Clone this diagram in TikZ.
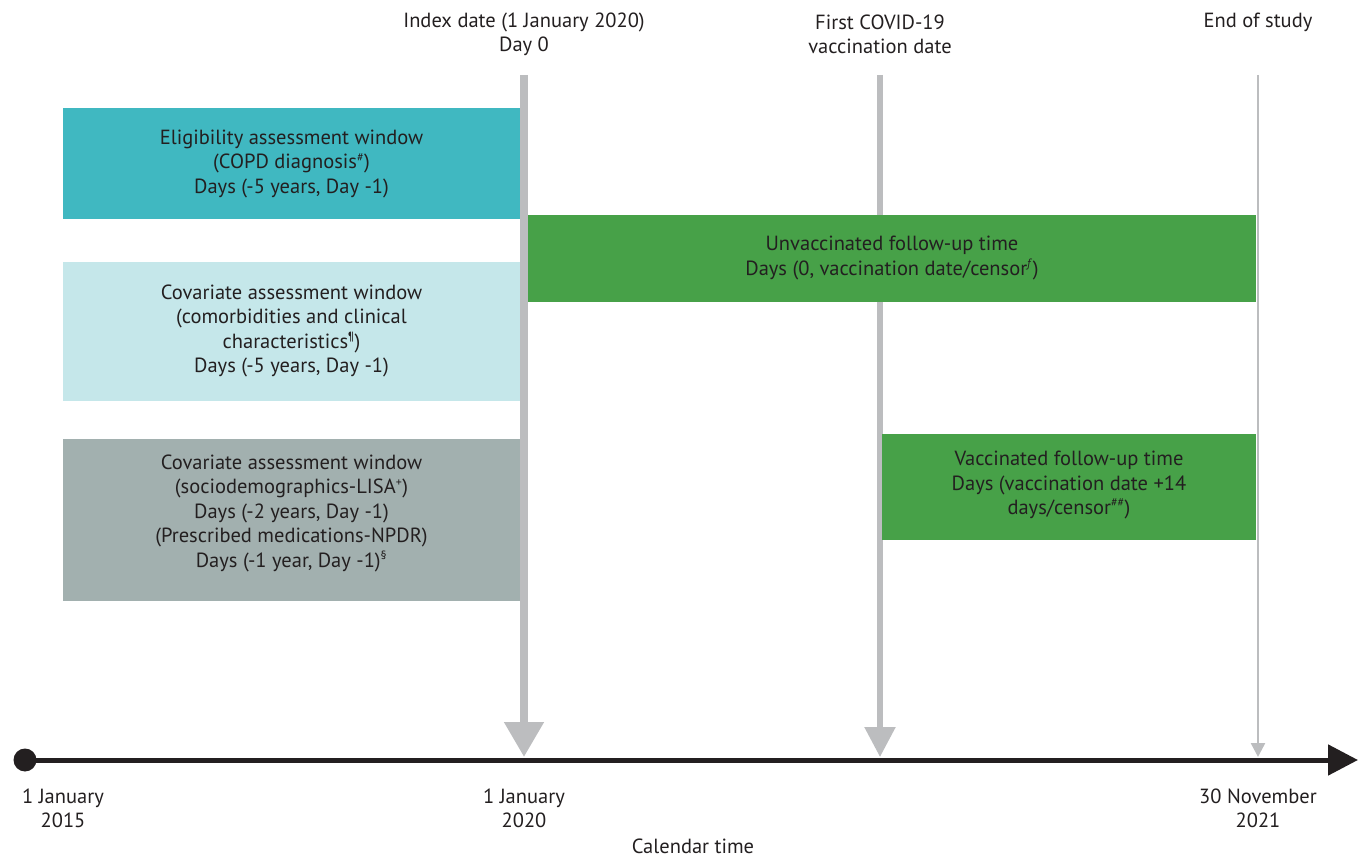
\documentclass[tikz,border=0pt]{standalone}
\usepackage{fontspec}
\setmainfont{PT Sans}
\usetikzlibrary{arrows.meta}
\definecolor{txt}{HTML}{231F20}
\definecolor{teal1}{HTML}{40B8C1}
\definecolor{teal2}{HTML}{C5E7EA}
\definecolor{grey1}{HTML}{A2B0AF}
\definecolor{green1}{HTML}{47A148}
\definecolor{vline}{HTML}{BCBDBF}
\tikzset{
  win/.style={inner sep=0pt, align=center, font=\fontsize{20.5}{24.5}\selectfont, text=txt},
  lbl/.style={inner sep=0pt, align=center, font=\fontsize{20.5}{24}\selectfont, text=txt},
}
\newcommand{\sups}[1]{\textsuperscript{\fontsize{12}{12}\selectfont #1}}
\begin{document}
\begin{tikzpicture}[x=1pt,y=-1pt]
\useasboundingbox (0,0) rectangle (1361,858);
% timeline
\coordinate (tstart) at (25,760);
\coordinate (tend) at (1358,760);
\draw[txt, line width=5pt, -{Triangle[length=30pt,width=30pt]}] (tstart) -- (tend);
\fill[txt] (tstart) circle (11.5);
% vertical markers
\coordinate (v1top) at (524,75);
\coordinate (v1bot) at (524,757);
\coordinate (v2top) at (880,75);
\coordinate (v2bot) at (880,757);
\coordinate (v3top) at (1258,75);
\coordinate (v3bot) at (1258,757);
\draw[vline, line width=8pt, -{Triangle[length=35pt,width=38pt]}] (v1top) -- (v1bot);
\draw[vline, line width=5.5pt, -{Triangle[length=30pt,width=30pt]}] (v2top) -- (v2bot);
\draw[vline, line width=2.5pt, -{Triangle[length=14pt,width=14pt]}] (v3top) -- (v3bot);
% boxes
\fill[teal1] (63,108) rectangle (520,219);
\fill[teal2] (63,262) rectangle (520,401);
\fill[grey1] (63,439) rectangle (520,601);
\fill[green1] (528,215) rectangle (1256,302);
\fill[green1] (882,434) rectangle (1256,540);
\node[win] (elig) at (291.5,164) {Eligibility assessment window\\(COPD diagnosis\sups{\#})\\Days (-5 years, Day -1)};
\node[win] (cov1) at (291.5,331) {Covariate assessment window\\(comorbidities and clinical\\characteristics\sups{¶})\\Days (-5 years, Day -1)};
\node[win] (cov2) at (291.5,513) {Covariate assessment window\\(sociodemographics-LISA\sups{+})\\Days (-2 years, Day -1)\\(Prescribed medications-NPDR)\\Days (-1 year, Day -1)\sups{§}};
\node[win] (unvac) at (892,258) {Unvaccinated follow-up time\\Days (0, vaccination date/censor\sups{\textit{f}})};
\node[win] (vac) at (1069,485) {Vaccinated follow-up time\\Days (vaccination date +14\\days/censor\sups{\#\#})};
% top labels
\node[lbl] (idx) at (524,34) {Index date (1 January 2020)\\Day 0};
\node[lbl] (vacd) at (880,34) {First COVID-19\\vaccination date};
\node[lbl] (eos) at (1258,22) {End of study};
% bottom labels
\node[lbl] (d1) at (63,808) {1 January\\2015};
\node[lbl] (d2) at (524,808) {1 January\\2020};
\node[lbl] (d3) at (1258,808) {30 November\\2021};
\node[lbl] (ct) at (693,846) {Calendar time};
\end{tikzpicture}
\end{document}
